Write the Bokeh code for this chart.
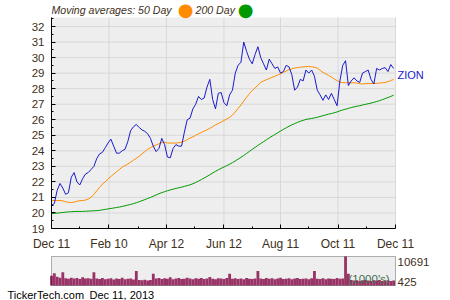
import pandas as pd
from bokeh.plotting import figure
from bokeh.models import FixedTicker, Label, Range1d, ColumnDataSource, BoxAnnotation
from bokeh.layouts import column
from bokeh.embed import file_html
from bokeh.resources import INLINE

START = "2012-12-11"
END = "2013-12-11"
STEP = "3D"

price = [20.5, 20.6, 21.45, 21.9, 21.6, 21.2, 21.3, 22.3, 22.6, 22.0,
         21.8, 22.2, 22.5, 22.6, 22.8, 23.0, 23.5, 23.8, 23.9, 24.2,
         24.5, 24.75, 24.3, 23.85, 23.85, 24.0, 24.1, 24.6, 25.3, 25.55,
         25.7, 25.5, 25.35, 25.25, 25.1, 24.8, 24.3, 23.95, 24.15, 24.8,
         24.4, 23.6, 23.55, 24.15, 24.4, 24.3, 24.3, 25.2, 26.0, 26.1,
         26.7, 27.0, 27.5, 27.3, 27.4, 28.1, 28.6, 27.3, 26.7, 27.7,
         27.75, 27.1, 26.9, 27.6, 27.9, 29.0, 29.5, 29.7, 31.0, 30.4,
         29.9, 29.6, 30.2, 30.7, 30.0, 29.6, 29.2, 29.9, 29.6, 29.3,
         29.4, 29.0, 29.1, 29.5, 29.4, 28.9, 27.9, 28.1, 28.6, 28.5,
         29.2, 29.0, 29.2, 28.8, 27.9, 27.6, 27.25, 27.6, 27.3, 27.7,
         27.3, 26.9, 28.5, 29.5, 29.8, 28.2, 28.5, 28.7, 28.5, 28.4,
         29.0, 29.1, 29.2, 28.6, 28.3, 29.3, 29.2, 29.3, 29.35, 29.1,
         29.55, 29.3]

ma50 = [20.8, 20.8, 20.8, 20.8, 20.78, 20.72, 20.68, 20.67, 20.7, 20.75,
        20.8, 20.8, 20.83, 20.9, 21.0, 21.2, 21.42, 21.65, 21.85, 22.0,
        22.2, 22.35, 22.5, 22.65, 22.8, 22.95, 23.05, 23.15, 23.27, 23.4,
        23.52, 23.65, 23.8, 23.95, 24.1, 24.2, 24.3, 24.37, 24.45, 24.55,
        24.55, 24.5, 24.5, 24.5, 24.5, 24.52, 24.55, 24.62, 24.72, 24.82,
        24.9, 25.0, 25.1, 25.18, 25.27, 25.35, 25.45, 25.55, 25.67, 25.75,
        25.85, 25.95, 26.05, 26.15, 26.3, 26.5, 26.72, 26.95, 27.2, 27.45,
        27.68, 27.88, 28.05, 28.22, 28.4, 28.5, 28.58, 28.65, 28.73, 28.8,
        28.88, 28.95, 29.05, 29.13, 29.22, 29.28, 29.33, 29.36, 29.38, 29.4,
        29.42, 29.42, 29.41, 29.38, 29.32, 29.18, 29.05, 28.95, 28.85, 28.75,
        28.62, 28.52, 28.42, 28.39, 28.38, 28.38, 28.38, 28.38, 28.36, 28.32,
        28.3, 28.32, 28.33, 28.33, 28.34, 28.34, 28.36, 28.38, 28.4, 28.45,
        28.52, 28.6]

ma200 = [19.95, 19.97, 19.99, 20.01, 20.03, 20.05, 20.07, 20.08, 20.09, 20.1,
         20.1, 20.1, 20.11, 20.12, 20.13, 20.14, 20.15, 20.17, 20.2, 20.23,
         20.26, 20.29, 20.32, 20.35, 20.38, 20.42, 20.46, 20.51, 20.55, 20.6,
         20.66, 20.72, 20.79, 20.86, 20.93, 21.0, 21.08, 21.16, 21.24, 21.31,
         21.37, 21.43, 21.48, 21.53, 21.58, 21.62, 21.66, 21.71, 21.76, 21.81,
         21.88, 21.96, 22.05, 22.15, 22.25, 22.35, 22.46, 22.57, 22.68, 22.78,
         22.87, 22.96, 23.05, 23.14, 23.24, 23.35, 23.46, 23.58, 23.7, 23.83,
         23.96, 24.09, 24.22, 24.35, 24.47, 24.59, 24.71, 24.83, 24.94, 25.05,
         25.16, 25.27, 25.38, 25.48, 25.58, 25.67, 25.75, 25.83, 25.9, 25.96,
         26.02, 26.05, 26.08, 26.12, 26.16, 26.21, 26.26, 26.31, 26.36, 26.4,
         26.45, 26.5, 26.57, 26.63, 26.68, 26.73, 26.78, 26.83, 26.87, 26.9,
         26.95, 26.99, 27.03, 27.07, 27.12, 27.17, 27.23, 27.29, 27.36, 27.43,
         27.5, 27.58]

volume = [3600, 4500, 3200, 2900, 4900,
          2700, 2500, 2900, 2600, 2800, 2400, 3000, 2600, 2700, 2500,
          4900,
          2600, 2400, 2800, 2300, 2500, 2700, 2200, 2600, 2400, 2900, 2300, 2500, 2600, 2200,
          5300,
          2000, 1900, 2100, 1800, 2000,
          4300,
          2600, 2800, 2400, 2700, 2500, 3000, 2300, 2600, 2800, 2400,
          2500, 2900, 2600, 2300, 2700, 2500, 2800, 2400, 2600, 3100,
          2500, 2300, 2700, 2600, 2400, 2800,
          4300,
          2500, 2700, 2400, 2600, 2300, 2800, 2500, 2400, 2600,
          5300,
          2600, 2400, 2800, 2500, 2700, 2300, 2600, 2900, 2400, 2500,
          2700, 2300, 2600, 2800, 2400, 2500, 2600, 2300, 2700,
          5300,
          2500, 2400, 2700, 2300, 2600, 2500, 2400, 2800, 2500, 2600,
          10691,
          4300,
          2000, 1800, 1900, 1700, 1900, 2000, 1800, 1700, 1900, 1800,
          2000, 1700, 1800, 1900, 1700, 1800]

tick_dates = ["2012-12-11", "2013-02-10", "2013-04-12", "2013-06-12",
              "2013-08-11", "2013-10-11", "2013-12-11"]
tick_labels = ["Dec 11", "Feb 10", "Apr 12", "Jun 12", "Aug 11", "Oct 11", "Dec 11"]
minor_dates = ["2013-01-10", "2013-03-13", "2013-05-12", "2013-07-12",
               "2013-09-10", "2013-11-10"]
y_ticks = list(range(19, 33))
y_minor = [v + 0.5 for v in range(19, 33)]
Y_MIN, Y_MAX = 19, 32.58
vol_max_label = "10691"
vol_min_label = "425"
symbol = "ZION"

t0 = pd.Timestamp(START)
def day(s):
    return (pd.Timestamp(s) - t0).days

dates = pd.date_range(START, periods=len(price), freq=STEP)
xs = [(d - t0).days for d in dates]
x_end = day(END)

FONT = "Liberation Sans"
TXT = "#3d3020"
BG = "#eeeeee"
GRID = "#d8d8d8"

# pixel geometry of the plot areas
L, R, T, B = 51, 395, 17, 228
px_per_day = (R - L) / x_end
px_per_unit = (B - T) / (Y_MAX - Y_MIN)

def dx(px):
    return (px - L) / px_per_day
def dy(py):
    return Y_MIN + (B - py) / px_per_unit

src = ColumnDataSource(dict(x=xs, price=price, ma50=ma50, ma200=ma200, vol=volume))

# main figure: frame spans from x=51 to 450 and y=0 to 228
p = figure(width=450, height=254, x_range=Range1d(0, dx(450)),
           y_range=Range1d(Y_MIN, dy(0)),
           output_backend="svg", toolbar_location=None,
           min_border_left=L, min_border_right=0, min_border_top=0,
           min_border_bottom=26)
p.frame_align = False
p.background_fill_color = "white"
p.border_fill_color = "white"
p.outline_line_color = None
p.grid.visible = False
p.add_layout(BoxAnnotation(left=0, right=x_end, bottom=Y_MIN, top=Y_MAX,
                           fill_color=BG, fill_alpha=1, line_color=None, level="underlay"))

xt = [day(d) for d in tick_dates]
p.segment(x0=xt, x1=xt, y0=[Y_MIN] * len(xt), y1=[Y_MAX] * len(xt), color=GRID, line_width=1)
p.segment(x0=[0] * len(y_ticks), x1=[x_end] * len(y_ticks), y0=y_ticks, y1=y_ticks,
          color=GRID, line_width=1)

p.line("x", "ma200", source=src, color="#009900", line_width=1)
p.line("x", "ma50", source=src, color="#ff8c00", line_width=1)
p.line("x", "price", source=src, color="#1a1acc", line_width=1)

p.xaxis.ticker = FixedTicker(ticks=xt, minor_ticks=[day(d) for d in minor_dates])
p.xaxis.major_label_overrides = {t: l for t, l in zip(xt, tick_labels)}
p.yaxis.ticker = FixedTicker(ticks=y_ticks, minor_ticks=y_minor)
p.xaxis.bounds = (0, x_end)
p.yaxis.bounds = (Y_MIN, Y_MAX)
for ax in (p.xaxis[0], p.yaxis[0]):
    ax.major_tick_in = 4
    ax.major_tick_out = 0
    ax.minor_tick_in = 2
    ax.minor_tick_out = 0
    ax.axis_line_color = "black"
    ax.major_tick_line_color = "black"
    ax.minor_tick_line_color = "black"
    ax.major_label_text_font = FONT
    ax.major_label_text_color = TXT
p.xaxis.major_label_text_font_size = "12px"
p.yaxis.major_label_text_font_size = "11.5px"
p.xaxis.major_label_standoff = 8
p.yaxis.major_label_standoff = 7

# legend line at top
p.add_layout(Label(x=dx(51), y=dy(9), text="Moving averages: 50 Day", text_font=FONT,
                   text_font_style="italic", text_font_size="10.6px", text_color=TXT,
                   text_baseline="middle"))
p.add_layout(Label(x=dx(185), y=dy(9), text="\u25CF", text_font="DejaVu Sans",
                   text_font_size="18px", text_color="#ff8c00", text_baseline="middle",
                   text_align="center"))
p.add_layout(Label(x=dx(195), y=dy(9), text="200 Day", text_font=FONT,
                   text_font_style="italic", text_font_size="10.6px", text_color=TXT,
                   text_baseline="middle"))
p.add_layout(Label(x=dx(245), y=dy(9), text="\u25CF", text_font="DejaVu Sans",
                   text_font_size="18px", text_color="#009900", text_baseline="middle",
                   text_align="center"))
p.add_layout(Label(x=dx(397), y=dy(74), text=symbol, text_font=FONT,
                   text_font_size="11px", text_color="#1a1acc", text_baseline="middle"))

# volume panel: frame spans the whole 450 x 46 area; plot box is 256..285 in page px
VT, VB, V_TOP_PAGE = 256, 285, 254
vmax = max(volume)
vpx = vmax / (VB - VT)
pv = figure(width=450, height=46, x_range=Range1d(dx(0), dx(450)),
            y_range=Range1d(-(300 - VB) * vpx, vmax + (VT - V_TOP_PAGE) * vpx),
            output_backend="svg", toolbar_location=None,
            x_axis_location=None, y_axis_location=None,
            min_border_left=0, min_border_right=0, min_border_top=0,
            min_border_bottom=0)
pv.frame_align = False
pv.background_fill_color = "white"
pv.border_fill_color = "white"
pv.outline_line_color = None
pv.grid.visible = False
pv.add_layout(BoxAnnotation(left=0, right=x_end, bottom=0, top=vmax,
                            fill_color=BG, fill_alpha=1, line_color=None, level="underlay"))
pv.vbar(x="x", top="vol", width=3, bottom=0, source=src, color="#993366", line_color=None)
pv.add_layout(BoxAnnotation(left=0, right=x_end, bottom=0, top=vmax,
                            fill_alpha=0, line_color="black", line_width=1, level="overlay"))

pv.add_layout(Label(x=dx(397), y=vmax, y_offset=-1, text=vol_max_label, text_font=FONT,
                    text_font_size="11.5px", text_color=TXT, text_baseline="top"))
pv.add_layout(Label(x=dx(397), y=0, text=vol_min_label, text_font=FONT,
                    text_font_size="11.5px", text_color=TXT, text_baseline="bottom"))
pv.add_layout(Label(x=dx(348), y=0, y_offset=1, text="(1000's)", text_font=FONT,
                    text_font_size="11.5px", text_color="#3f6f50", text_baseline="bottom"))
pv.add_layout(Label(x=dx(7), y=-9 * vpx, text="TickerTech.com", text_font=FONT,
                    text_font_size="11px", text_color="black", text_baseline="middle"))
pv.add_layout(Label(x=dx(89), y=-9 * vpx, text="Dec 11, 2013", text_font=FONT,
                    text_font_size="11px", text_color="black", text_baseline="middle"))

layout = column(p, pv, spacing=0)
open("out.html", "w").write(file_html(layout, INLINE))
